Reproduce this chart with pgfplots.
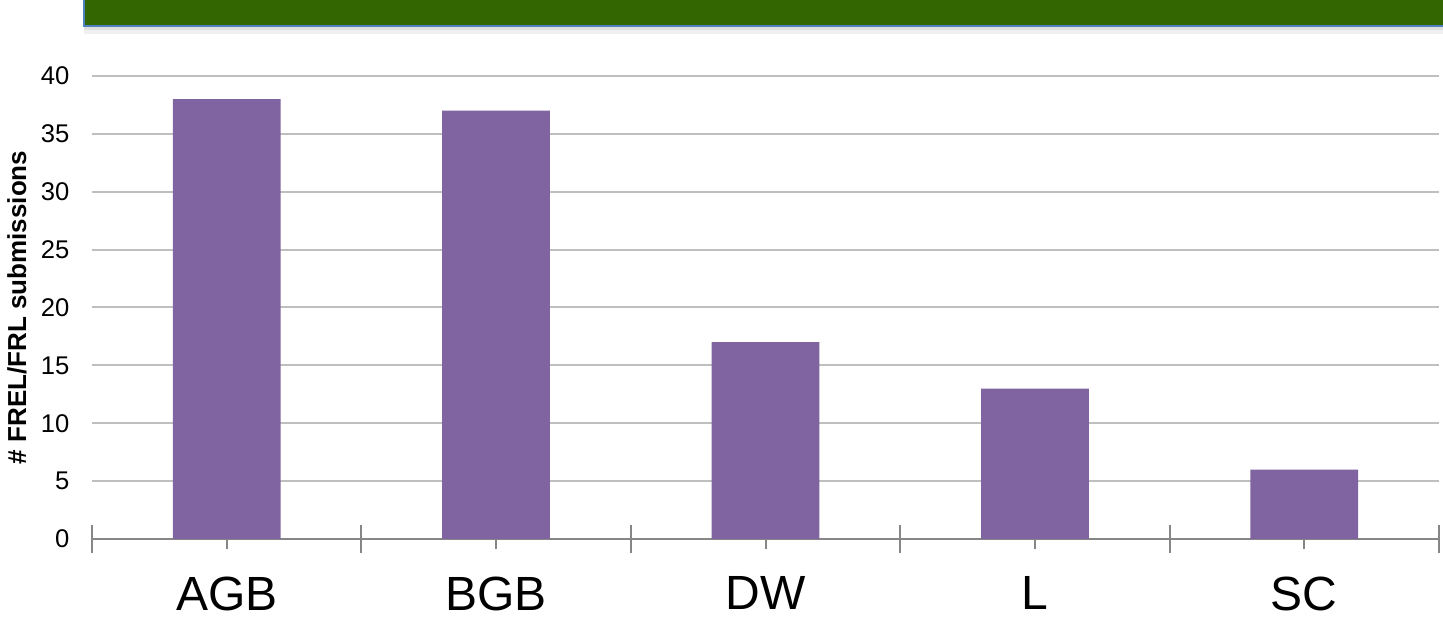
\documentclass[border=0pt]{standalone}
\usepackage{pgfplots}
\pgfplotsset{compat=1.18}
\usepackage{fontspec}
\setmainfont{Liberation Sans}
\definecolor{barpurple}{HTML}{8064A2}
\definecolor{bandgreen}{HTML}{336600}
\definecolor{bandblue}{HTML}{4F81BD}
\definecolor{gridgray}{HTML}{BFBFBF}
\definecolor{axisgray}{HTML}{868686}

\begin{document}
\begin{tikzpicture}
% page frame: 1443 x 619 px at 0.5pt per px
\useasboundingbox (0,0) rectangle (721.5pt,309.5pt);
% header band
\fill[gray!25] (42pt,294.5pt) rectangle (721.5pt,296.5pt);
\fill[gray!12] (42pt,292.5pt) rectangle (721.5pt,294.5pt);
\fill[bandgreen, draw=bandblue, line width=1pt] (42pt,296.5pt) rectangle (722.5pt,310.5pt);

\begin{axis}[
    at={(46pt,40pt)},
    anchor=south west,
    scale only axis,
    width=673.5pt,
    height=231.5pt,
    xmin=-0.5, xmax=4.5,
    ymin=0, ymax=40,
    axis x line*=bottom,
    axis y line*=left,
    y axis line style={draw=none},
    x axis line style={axisgray, line width=1pt, -},
    ytick={0,5,...,40},
    ytick style={draw=none},
    ymajorgrids,
    grid style={gridgray, line width=1pt},
    xtick={0,1,2,3,4},
    xticklabels={AGB,BGB,DW,L,SC},
    extra x ticks={-0.5,0.5,1.5,2.5,3.5,4.5},
    extra x tick labels={},
    extra x tick style={major tick length=14pt, tick style={axisgray, line width=1pt}},
    tick align=center,
    major tick length=10.5pt,
    xtick style={axisgray, line width=1pt},
    xticklabel style={font=\fontsize{24pt}{24pt}\selectfont, anchor=north, yshift=-10pt},
    yticklabel style={font=\fontsize{12.8pt}{12.8pt}\selectfont, anchor=east, xshift=-2.5pt},
    /pgf/number format/assume math mode=true,
    every axis y label/.style={at={(rel axis cs:-0.0557,0.5)}, rotate=90, anchor=center},
    ylabel={\fontsize{13pt}{13pt}\selectfont\bfseries \# FREL/FRL submissions},
    clip=false,
]
\addplot[ybar, bar width=0.4, fill=barpurple, draw=none] coordinates {
    (0,38) (1,37) (2,17) (3,13) (4,6)
};
\end{axis}
\end{tikzpicture}
\end{document}
